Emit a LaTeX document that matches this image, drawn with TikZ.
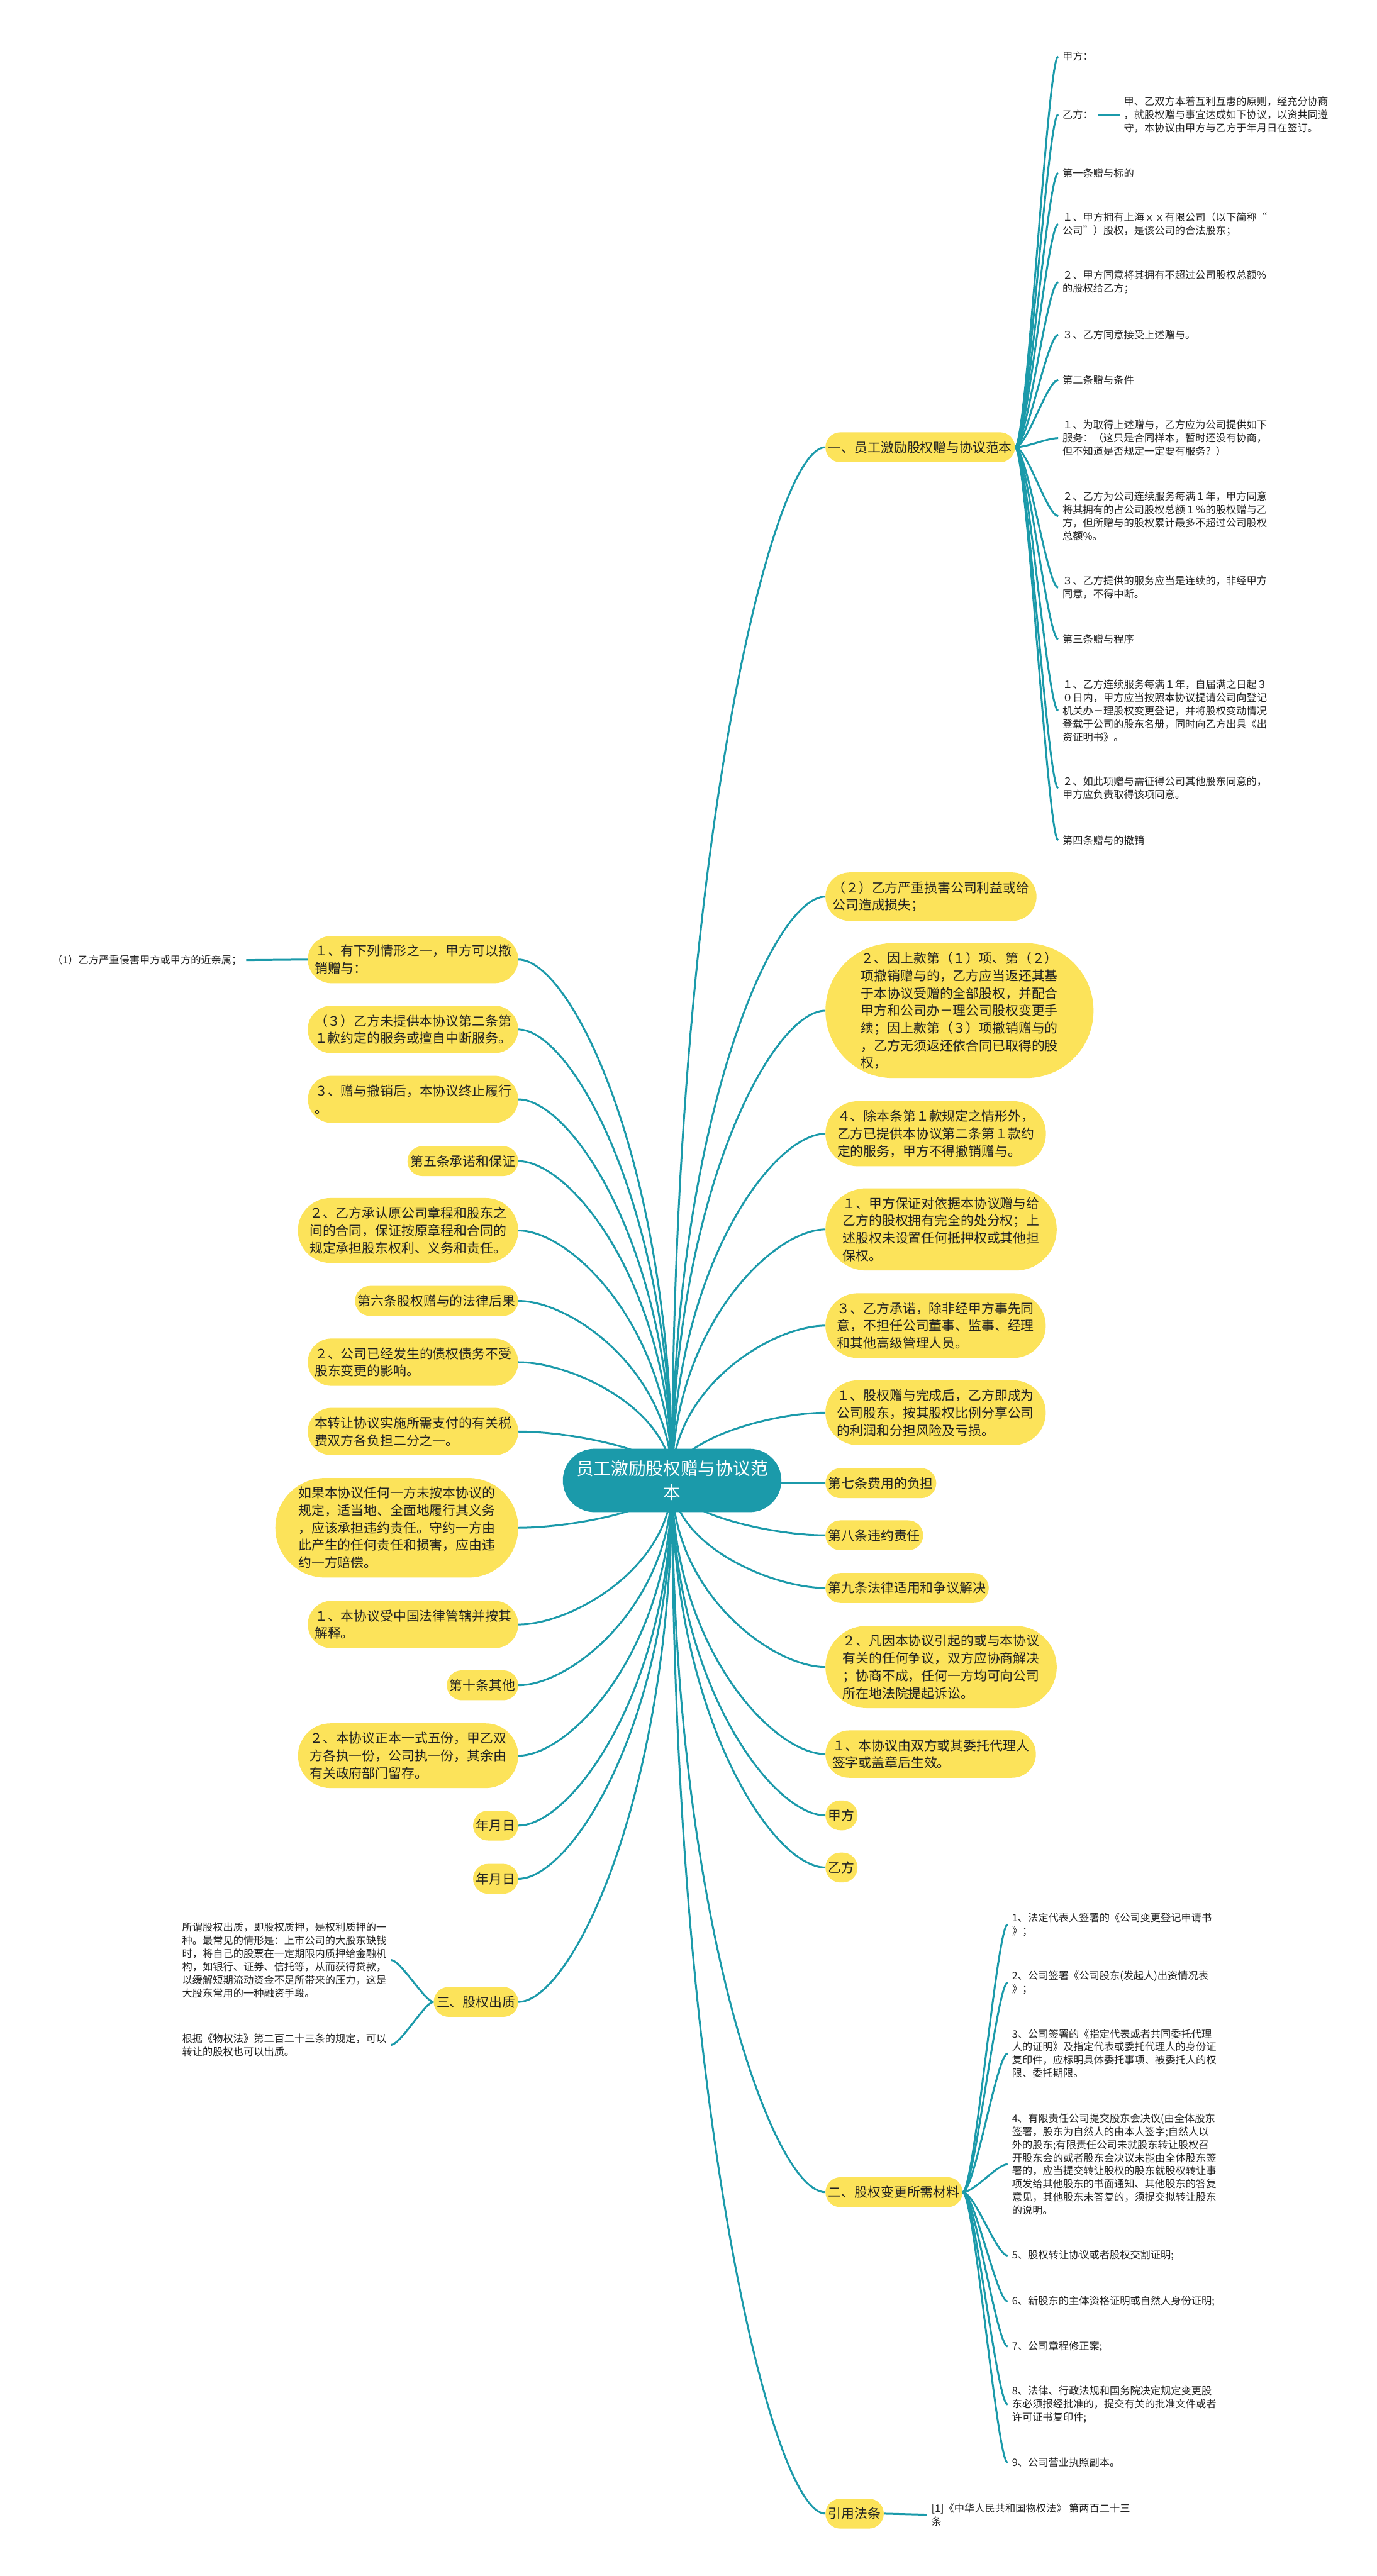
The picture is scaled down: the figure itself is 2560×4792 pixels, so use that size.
\documentclass[tikz,border=0pt]{standalone}
\usepackage{fontspec}
\setmainfont{Noto Sans CJK SC}
\usetikzlibrary{shapes.misc,backgrounds,calc}
\definecolor{tealc}{HTML}{1B9AAA}
\definecolor{yelc}{HTML}{FCE35A}
\definecolor{txtc}{HTML}{222222}
\tikzset{
  link/.style={draw=tealc, line width=3.5pt},
  bx/.style={rounded rectangle, fill=yelc, text=txtc, inner xsep=3pt, inner ysep=16.5pt, align=left, font=\fontsize{24.4}{32.4}\selectfont},
  lf/.style={inner xsep=8pt, inner ysep=2pt, align=left, text=txtc, font=\fontsize{19}{24.5}\selectfont},
  rootbox/.style={rounded rectangle, fill=tealc, text=white, inner xsep=12pt, inner ysep=22pt, align=center, font=\fontsize{32.4}{44}\selectfont},
}
\newcommand\rootR[1]{\draw[link] (root.center) .. controls ($(root.center)!0.6!(root.center |- #1.west)$) and ($(#1.west)!0.35!(#1.west -| root.center)$) .. (#1.west);}
\newcommand\rootL[1]{\draw[link] (root.center) .. controls ($(root.center)!0.6!(root.center |- #1.east)$) and ($(#1.east)!0.35!(#1.east -| root.center)$) .. (#1.east);}
\newcommand\leafR[2]{\draw[link] (#1.east) .. controls +(22,0) and +(-20,0) .. (#2.west);}
\newcommand\leafL[2]{\draw[link] (#1.west) .. controls +(-16,0) and +(18,0) .. (#2.east);}
\begin{document}
\begin{tikzpicture}[x=1pt,y=-1pt]
\path[use as bounding box] (0,0) rectangle (2560,4792);
% root
\node[rootbox] (root) at (1250,2754) {员工激励股权赠与协议范\\本};
% right boxes
\node[bx,anchor=west] (r1) at (1535,832) {一、员工激励股权赠与协议范本};
\node[bx,anchor=west] (r2) at (1535,1668) {（２）乙方严重损害公司利益或给\\公司造成损失；};
\node[bx,anchor=west] (r3) at (1535,1880) {２、因上款第（１）项、第（２）\\项撤销赠与的，乙方应当返还其基\\于本协议受赠的全部股权，并配合\\甲方和公司办－理公司股权变更手\\续；因上款第（３）项撤销赠与的\\，乙方无须返还依合同已取得的股\\权，};
\node[bx,anchor=west] (r4) at (1535,2109) {４、除本条第１款规定之情形外，\\乙方已提供本协议第二条第１款约\\定的服务，甲方不得撤销赠与。};
\node[bx,anchor=west] (r5) at (1535,2287) {１、甲方保证对依据本协议赠与给\\乙方的股权拥有完全的处分权；上\\述股权未设置任何抵押权或其他担\\保权。};
\node[bx,anchor=west] (r6) at (1535,2466) {３、乙方承诺，除非经甲方事先同\\意，不担任公司董事、监事、经理\\和其他高级管理人员。};
\node[bx,anchor=west] (r7) at (1535,2628) {１、股权赠与完成后，乙方即成为\\公司股东，按其股权比例分享公司\\的利润和分担风险及亏损。};
\node[bx,anchor=west] (r8) at (1535,2759) {第七条费用的负担};
\node[bx,anchor=west] (r9) at (1535,2856) {第八条违约责任};
\node[bx,anchor=west] (r10) at (1535,2954) {第九条法律适用和争议解决};
\node[bx,anchor=west] (r11) at (1535,3101) {２、凡因本协议引起的或与本协议\\有关的任何争议，双方应协商解决\\；协商不成，任何一方均可向公司\\所在地法院提起诉讼。};
\node[bx,anchor=west] (r12) at (1535,3263) {１、本协议由双方或其委托代理人\\签字或盖章后生效。};
\node[bx,anchor=west] (r13) at (1535,3377) {甲方};
\node[bx,anchor=west] (r14) at (1535,3474) {乙方};
\node[bx,anchor=west] (r15) at (1535,4078) {二、股权变更所需材料};
\node[bx,anchor=west] (r16) at (1535,4676) {引用法条};
% left boxes
\node[bx,anchor=east] (b1) at (964,1785) {１、有下列情形之一，甲方可以撤\\销赠与：};
\node[bx,anchor=east] (b2) at (964,1915) {（３）乙方未提供本协议第二条第\\１款约定的服务或擅自中断服务。};
\node[bx,anchor=east] (b3) at (964,2045) {３、赠与撤销后，本协议终止履行\\。};
\node[bx,anchor=east] (b4) at (964,2160) {第五条承诺和保证};
\node[bx,anchor=east] (b5) at (964,2289) {２、乙方承认原公司章程和股东之\\间的合同，保证按原章程和合同的\\规定承担股东权利、义务和责任。};
\node[bx,anchor=east] (b6) at (964,2420) {第六条股权赠与的法律后果};
\node[bx,anchor=east] (b7) at (964,2534) {２、公司已经发生的债权债务不受\\股东变更的影响。};
\node[bx,anchor=east] (b8) at (964,2663) {本转让协议实施所需支付的有关税\\费双方各负担二分之一。};
\node[bx,anchor=east] (b9) at (964,2842) {如果本协议任何一方未按本协议的\\规定，适当地、全面地履行其义务\\，应该承担违约责任。守约一方由\\此产生的任何责任和损害，应由违\\约一方赔偿。};
\node[bx,anchor=east] (b10) at (964,3022) {１、本协议受中国法律管辖并按其\\解释。};
\node[bx,anchor=east] (b11) at (964,3135) {第十条其他};
\node[bx,anchor=east] (b12) at (964,3266) {２、本协议正本一式五份，甲乙双\\方各执一份，公司执一份，其余由\\有关政府部门留存。};
\node[bx,anchor=east] (b13) at (964,3396) {年月日};
\node[bx,anchor=east] (b14) at (964,3495) {年月日};
\node[bx,anchor=east] (b15) at (964,3724) {三、股权出质};
% leaves of r1
\node[lf,anchor=west] (l1) at (1968,105) {甲方：};
\node[lf,anchor=west] (l2) at (1968,213) {乙方：};
\node[lf,anchor=west] (l2c) at (2082,213) {甲、乙双方本着互利互惠的原则，经充分协商\\，就股权赠与事宜达成如下协议，以资共同遵\\守，本协议由甲方与乙方于年月日在签订。};
\node[lf,anchor=west] (l3) at (1968,322) {第一条赠与标的};
\node[lf,anchor=west] (l4) at (1968,417) {１、甲方拥有上海ｘｘ有限公司（以下简称“\\公司”）股权，是该公司的合法股东；};
\node[lf,anchor=west] (l5) at (1968,525) {２、甲方同意将其拥有不超过公司股权总额\%\\的股权给乙方；};
\node[lf,anchor=west] (l6) at (1968,623) {３、乙方同意接受上述赠与。};
\node[lf,anchor=west] (l7) at (1968,707) {第二条赠与条件};
\node[lf,anchor=west] (l8) at (1968,815) {１、为取得上述赠与，乙方应为公司提供如下\\服务：（这只是合同样本，暂时还没有协商，\\但不知道是否规定一定要有服务？）};
\node[lf,anchor=west] (l9) at (1968,960) {２、乙方为公司连续服务每满１年，甲方同意\\将其拥有的占公司股权总额１％的股权赠与乙\\方，但所赠与的股权累计最多不超过公司股权\\总额\%。};
\node[lf,anchor=west] (l10) at (1968,1093) {３、乙方提供的服务应当是连续的，非经甲方\\同意，不得中断。};
\node[lf,anchor=west] (l11) at (1968,1189) {第三条赠与程序};
\node[lf,anchor=west] (l12) at (1968,1322) {１、乙方连续服务每满１年，自届满之日起３\\０日内，甲方应当按照本协议提请公司向登记\\机关办－理股权变更登记，并将股权变动情况\\登载于公司的股东名册，同时向乙方出具《出\\资证明书》。};
\node[lf,anchor=west] (l13) at (1968,1466) {２、如此项赠与需征得公司其他股东同意的，\\甲方应负责取得该项同意。};
\node[lf,anchor=west] (l14) at (1968,1563) {第四条赠与的撤销};
% leaf of b1
\node[lf,anchor=east] (k1) at (458,1786) {（1）乙方严重侵害甲方或甲方的近亲属；};
% leaves of b15
\node[lf,anchor=east] (t1) at (727,3646) {所谓股权出质，即股权质押，是权利质押的一\\种。最常见的情形是：上市公司的大股东缺钱\\时，将自己的股票在一定期限内质押给金融机\\构，如银行、证券、信托等，从而获得贷款，\\以缓解短期流动资金不足所带来的压力，这是\\大股东常用的一种融资手段。};
\node[lf,anchor=east] (t2) at (727,3804) {根据《物权法》第二百二十三条的规定，可以\\转让的股权也可以出质。};
% leaves of r15
\node[lf,anchor=west] (e1) at (1874,3580) {1、法定代表人签署的《公司变更登记申请书\\》；};
\node[lf,anchor=west] (e2) at (1874,3688) {2、公司签署《公司股东(发起人)出资情况表\\》；};
\node[lf,anchor=west] (e3) at (1874,3820) {3、公司签署的《指定代表或者共同委托代理\\人的证明》及指定代表或委托代理人的身份证\\复印件，应标明具体委托事项、被委托人的权\\限、委托期限。};
\node[lf,anchor=west] (e4) at (1874,4026) {4、有限责任公司提交股东会决议(由全体股东\\签署，股东为自然人的由本人签字;自然人以\\外的股东;有限责任公司未就股东转让股权召\\开股东会的或者股东会决议未能由全体股东签\\署的，应当提交转让股权的股东就股权转让事\\项发给其他股东的书面通知、其他股东的答复\\意见，其他股东未答复的，须提交拟转让股东\\的说明。};
\node[lf,anchor=west] (e5) at (1874,4196) {5、股权转让协议或者股权交割证明;};
\node[lf,anchor=west] (e6) at (1874,4281) {6、新股东的主体资格证明或自然人身份证明;};
\node[lf,anchor=west] (e7) at (1874,4365) {7、公司章程修正案;};
\node[lf,anchor=west] (e8) at (1874,4473) {8、法律、行政法规和国务院决定规定变更股\\东必须报经批准的，提交有关的批准文件或者\\许可证书复印件;};
\node[lf,anchor=west] (e9) at (1874,4581) {9、公司营业执照副本。};
% citation
\node[lf,anchor=west] (c1) at (1724,4678) {[1]《中华人民共和国物权法》 第两百二十三\\条};
\begin{scope}[on background layer]
\fill[white] (0,0) rectangle (2560,4792);
\foreach \n in {r1,r2,r3,r4,r5,r6,r7,r8,r9,r10,r11,r12,r13,r14,r15,r16} {\rootR{\n}}
\foreach \n in {b1,b2,b3,b4,b5,b6,b7,b8,b9,b10,b11,b12,b13,b14,b15} {\rootL{\n}}
\foreach \n in {l1,l2,l3,l4,l5,l6,l7,l8,l9,l10,l11,l12,l13,l14} {\leafR{r1}{\n}}
\draw[link] (l2.east) -- (l2c.west);
\draw[link] (k1.east) -- (b1.west);
\foreach \n in {t1,t2} {\leafL{b15}{\n}}
\foreach \n in {e1,e2,e3,e4,e5,e6,e7,e8,e9} {\leafR{r15}{\n}}
\draw[link] (r16.east) -- (c1.west);
\end{scope}
\end{tikzpicture}
\end{document}
